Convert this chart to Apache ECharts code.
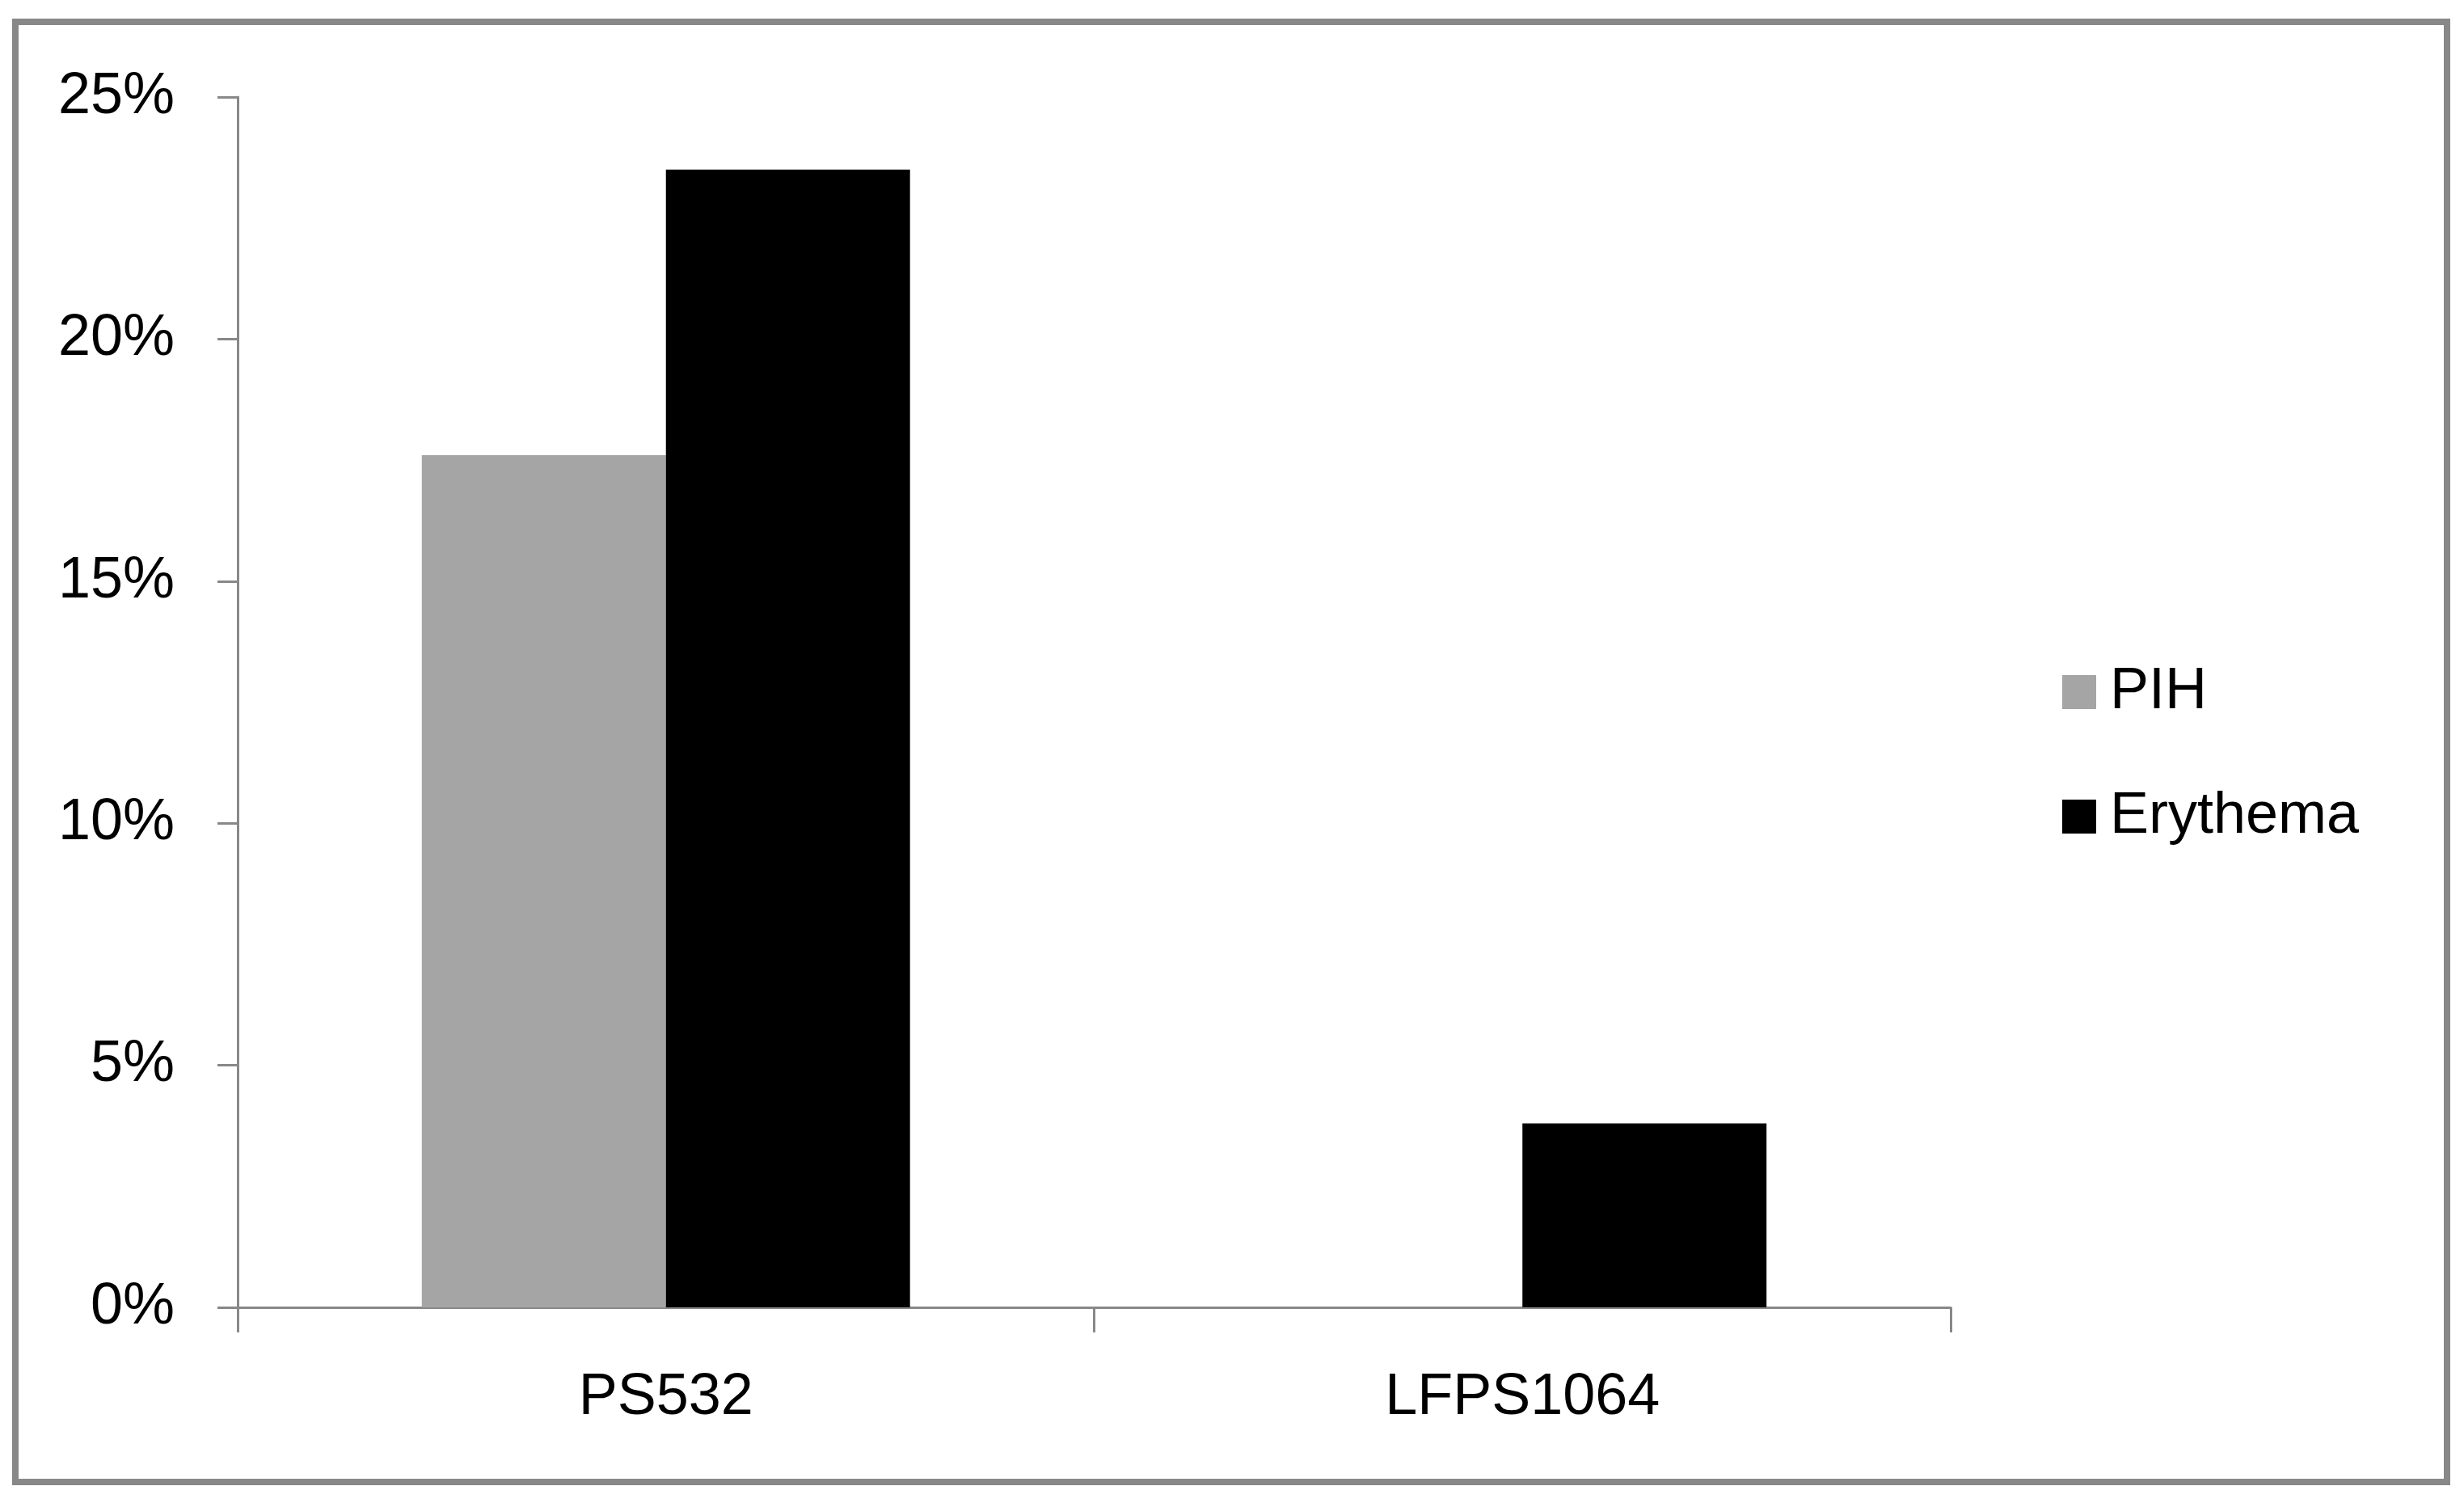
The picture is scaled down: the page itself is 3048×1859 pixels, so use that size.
<!DOCTYPE html>
<html>
<head>
<meta charset="utf-8">
<script src="https://cdn.jsdelivr.net/npm/echarts@6/dist/echarts.min.js"></script>
<style>
  html, body { margin: 0; padding: 0; background: #fff; }
  #chart { width: 3048px; height: 1859px; }
</style>
</head>
<body>
<div id="chart"></div>
<script>
// categories and series (percent)
const categories = ['PS532', 'LFPS1064'];
const seriesNames = ['PIH', 'Erythema'];
const pihValues = [17.6, 0];
const erythemaValues = [23.5, 3.8];
const yTicks = [0, 5, 10, 15, 20, 25];

const axisGrey = '#888888';
const fontFamily = '"Liberation Sans", Arial, sans-serif';

let chart = echarts.init(document.getElementById('chart'), null, { renderer: 'canvas' });

let option = {
  backgroundColor: '#ffffff',
  animation: false,
  // outer frame
  graphic: [
    {
      type: 'rect',
      left: 15,
      top: 23,
      shape: { width: 3008, height: 1806 },
      style: { fill: 'none', stroke: axisGrey, lineWidth: 8 },
      silent: true
    }
  ],
  grid: {
    left: 294,
    right: 635,
    top: 120,
    bottom: 242
  },
  legend: {
    orient: 'vertical',
    left: 2546,
    top: 811,
    itemWidth: 42,
    itemHeight: 42,
    itemGap: 74,
    icon: 'rect',
    data: seriesNames,
    textStyle: {
      fontFamily: fontFamily,
      fontSize: 72,
      color: '#000',
      lineHeight: 80,
      padding: [0, 0, 0, 12]
    }
  },
  xAxis: {
    type: 'category',
    data: categories,
    axisLine: { lineStyle: { color: axisGrey, width: 3 } },
    axisTick: { show: true, length: 31, lineStyle: { color: axisGrey, width: 3 } },
    axisLabel: {
      margin: 76,
      fontFamily: fontFamily,
      fontSize: 72,
      color: '#000'
    },
    splitLine: { show: false }
  },
  yAxis: {
    type: 'value',
    min: yTicks[0],
    max: yTicks[yTicks.length - 1],
    interval: 5,
    axisLine: { show: true, lineStyle: { color: axisGrey, width: 3 } },
    axisTick: { show: true, length: 25, lineStyle: { color: axisGrey, width: 3 } },
    axisLabel: {
      margin: 78,
      fontFamily: fontFamily,
      fontSize: 72,
      color: '#000',
      formatter: '{value}%'
    },
    splitLine: { show: false }
  },
  series: [
    {
      name: seriesNames[0],
      type: 'bar',
      data: pihValues,
      barGap: '0%',
      barCategoryGap: '43%',
      itemStyle: { color: '#a5a5a5' }
    },
    {
      name: seriesNames[1],
      type: 'bar',
      data: erythemaValues,
      barGap: '0%',
      barCategoryGap: '43%',
      itemStyle: { color: '#000000' }
    }
  ]
};

chart.setOption(option);
</script>
</body>
</html>
